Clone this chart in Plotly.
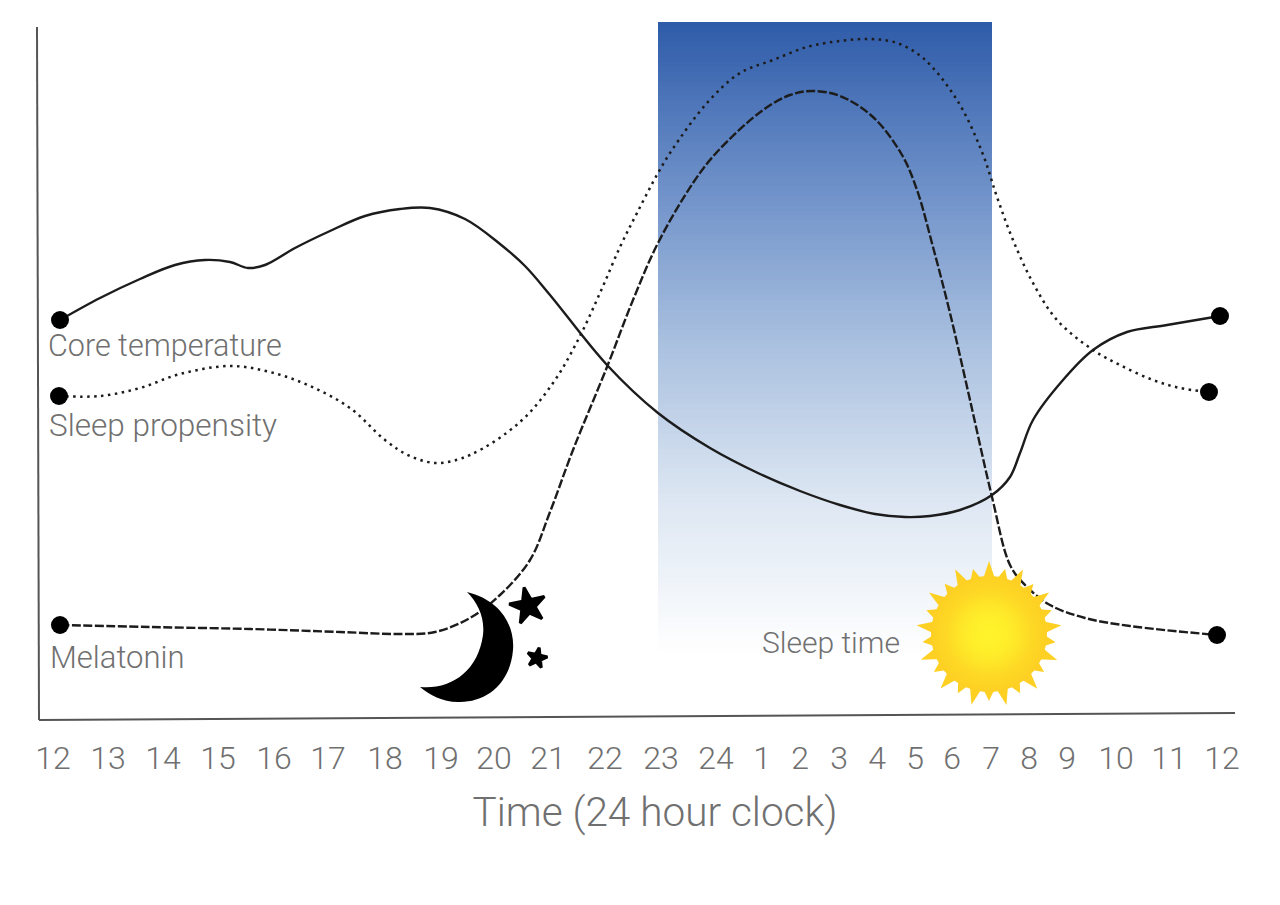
import numpy as np
import plotly.graph_objects as go

FLOOR = 718  # picture row of the time axis; levels are measured upward from it

tick_pos = [53, 108, 163, 218, 274, 328, 385, 441, 494, 548, 605, 661, 716, 762, 800, 839, 877, 915, 952, 991, 1029, 1067, 1116, 1169, 1222]
tick_labels = ["12", "13", "14", "15", "16", "17", "18", "19", "20", "21", "22", "23", "24", "1", "2", "3", "4", "5", "6", "7", "8", "9", "10", "11", "12"]

core_x = [60, 100, 140, 175, 205, 230, 248, 265, 295, 330, 365, 400, 430, 465, 500, 525, 550, 607, 658, 710, 760, 800, 840, 875, 905, 930, 960, 992, 1010, 1020, 1033, 1063, 1093, 1127, 1167, 1220]
core_row = [320, 298, 279, 265, 260, 262, 268, 265, 248, 231, 216, 209, 208, 219, 244, 266, 295, 365, 413, 448, 474, 491, 505, 514, 517, 516, 510, 495, 477, 453, 420, 380, 350, 332, 325, 316]

sleep_x = [59, 100, 140, 180, 230, 270, 310, 350, 385, 410, 437, 470, 520, 553, 578, 600, 620, 637, 658, 672, 707, 740, 773, 807, 840, 870, 897, 923, 957, 982, 997, 1013, 1033, 1057, 1093, 1120, 1153, 1180, 1209]
sleep_row = [396, 396, 388, 374, 366, 372, 386, 408, 440, 456, 463, 455, 422, 383, 340, 293, 247, 213, 173, 150, 103, 73, 60, 47, 41, 39, 43, 58, 100, 152, 197, 240, 283, 320, 350, 365, 380, 388, 392]

mel_x = [60, 150, 250, 340, 400, 435, 470, 500, 530, 550, 573, 607, 633, 658, 693, 717, 763, 790, 812, 840, 873, 902, 917, 933, 950, 970, 992, 1010, 1025, 1050, 1085, 1130, 1217]
mel_row = [625, 627, 629, 632, 634, 632, 618, 595, 560, 512, 450, 367, 300, 243, 183, 152, 110, 95, 91, 96, 117, 155, 190, 247, 313, 400, 497, 565, 585, 605, 618, 626, 635]

band_levels = [0.0, 0.25, 0.5, 0.75, 1.0]
band_colors = ["#ffffff", "#dce6f2", "#a8bfdf", "#6c8fc8", "#2f5ca9"]

curve_names = ["Core temperature", "Sleep propensity", "Melatonin"]
INK = "#1c1c1c"
TEXT = "#707070"
FONT = "Roboto Light, Roboto, Liberation Sans"


def lv(row):
    return FLOOR - np.asarray(row)


fig = go.Figure()

# Sleep-time gradient band
edges = np.linspace(lv(657), lv(22), 129)
fig.add_trace(go.Heatmap(
    x=[658, 992], y=edges,
    z=[[v] for v in np.linspace(0, 1, 128)],
    colorscale=list(zip(band_levels, band_colors)), showscale=False, hoverinfo="skip", zmin=0, zmax=1,
))

styles = [dict(dash="solid", width=2.4), dict(dash="2.5px,4.5px", width=2.5), dict(dash="9px,2.5px", width=2.4)]
for name, xs, rows, st in zip(curve_names, [core_x, sleep_x, mel_x], [core_row, sleep_row, mel_row], styles):
    ys = lv(rows)
    fig.add_trace(go.Scatter(x=xs, y=ys, mode="lines", name=name,
                             line=dict(color=INK, shape="spline", smoothing=1.0, **st), showlegend=False))
    fig.add_trace(go.Scatter(x=[xs[0], xs[-1]], y=[ys[0], ys[-1]], mode="markers", showlegend=False,
                             marker=dict(color="#000000", size=18, opacity=1)))

# Stars
fig.add_trace(go.Scatter(x=[528, 537], y=[lv(606), lv(658)], mode="markers", showlegend=False,
                         marker=dict(symbol="star", color="#000000", size=[27, 15], angle=[-12, 12], opacity=1,
                                     line=dict(color="#000000", width=3))))

# Sun
cx, cy, n = 989, lv(634), 26
ang = np.linspace(0, 2 * np.pi, 2 * n, endpoint=False) + 0.12
rad = np.where(np.arange(2 * n) % 2 == 1, 54, np.where(np.arange(2 * n) % 4 == 0, 73, 67))
fig.add_trace(go.Scatter(x=np.r_[cx + rad * np.cos(ang), cx + rad[0] * np.cos(ang[0])],
                         y=np.r_[cy + rad * np.sin(ang), cy + rad[0] * np.sin(ang[0])],
                         mode="lines", fill="toself", fillcolor="#fdd023", line=dict(width=0), showlegend=False))
fig.add_trace(go.Scatter(x=[cx, cx], y=[cy, cy], mode="markers", showlegend=False,
                         marker=dict(size=[116, 84], color=["#fdd023", "rgba(255,243,43,0)"], line=dict(width=0), opacity=1,
                                     gradient=dict(type="radial", color=["#fff02a", "#fff32b"]))))

m = lambda r: float(lv(r))
moon = (f"M 467 {m(592)} C 500 {m(600)} 515 {m(625)} 513 {m(650)} "
        f"C 510 {m(685)} 485 {m(703)} 458 {m(702)} C 442 {m(702)} 430 {m(695)} 420 {m(687)} "
        f"C 450 {m(690)} 478 {m(672)} 483 {m(635)} C 485 {m(618)} 478 {m(603)} 467 {m(592)} Z")

shapes = [
    dict(type="path", path=moon, fillcolor="#000000", line=dict(width=0), layer="above"),
    dict(type="line", x0=37, y0=m(27), x1=39, y1=m(720), line=dict(color="#555555", width=2)),
    dict(type="line", x0=39, y0=m(720), x1=1235, y1=m(713), line=dict(color="#555555", width=2)),
]

labels = [("Core temperature", 46, 345, 30.5), ("Sleep propensity", 47, 425, 31.5), ("Melatonin", 48, 657, 31), ("Sleep time", 760, 642, 30)]
annotations = [dict(x=x, y=m(r), text=t, showarrow=False, xanchor="left", yanchor="middle",
                    font=dict(family=FONT, size=s, color=TEXT)) for t, x, r, s in labels]

fig.update_layout(
    width=1272, height=897, margin=dict(l=22, r=0, t=0, b=177, pad=0),
    paper_bgcolor="white", plot_bgcolor="white", showlegend=False,
    shapes=shapes, annotations=annotations,
    xaxis=dict(range=[30, 1280], showgrid=False, zeroline=False, showline=False,
               tickmode="array", tickvals=tick_pos, ticktext=tick_labels,
               ticks="outside", ticklen=2, tickcolor="rgba(0,0,0,0)",
               tickfont=dict(family=FONT, size=32, color=TEXT),
               title=dict(text="Time (24 hour clock)", standoff=21, font=dict(family=FONT, size=40.5, color=TEXT))),
    yaxis=dict(range=[-10, 710], showgrid=False, zeroline=False, showline=False, showticklabels=False, ticks=""),
)
fig.write_html("out.html")
